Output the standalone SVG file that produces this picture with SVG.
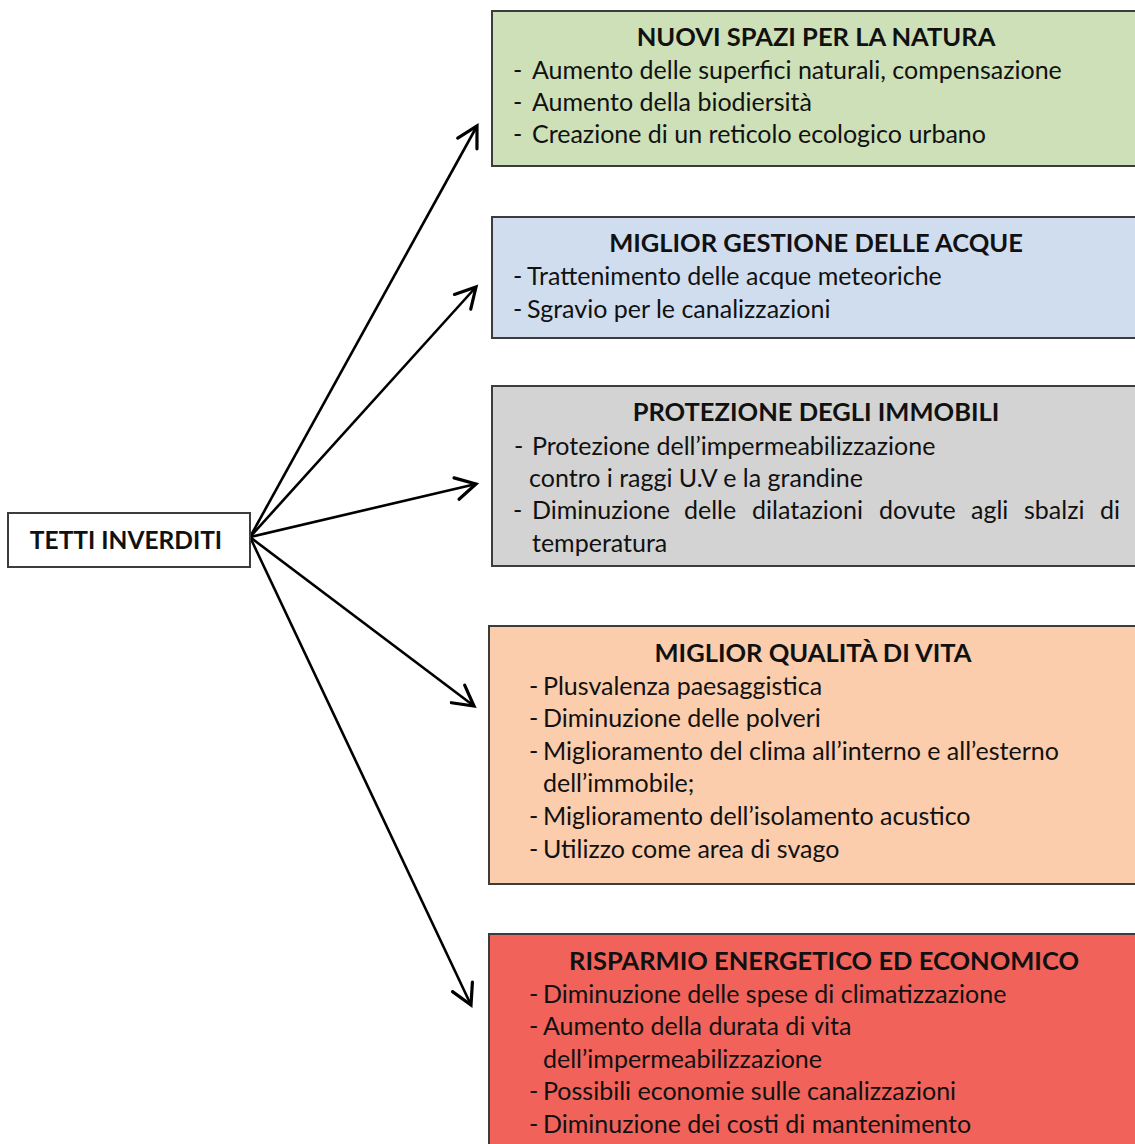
<svg xmlns="http://www.w3.org/2000/svg" width="1135" height="1144" viewBox="0 0 1135 1144">
<style>
.box{stroke:#3c3c3c;stroke-width:2}
text{font-family:Lato,"Open Sans","Liberation Sans",sans-serif;font-size:25px;fill:#111}
.t{font-weight:bold;text-anchor:middle;font-size:25.5px}
.conn line{stroke:#000;stroke-width:2.6}
</style>
<defs>
<marker id="ah" markerUnits="userSpaceOnUse" markerWidth="30" markerHeight="30" refX="24" refY="14" orient="auto" viewBox="0 0 30 28">
<path d="M4,3 L24,14 L4,25" fill="none" stroke="#000" stroke-width="3.2" stroke-linecap="round" stroke-linejoin="miter"/>
</marker>
</defs>
<rect width="1135" height="1144" fill="#fff"/>
<g class="conn">
<line x1="250" y1="537" x2="477" y2="126" marker-end="url(#ah)"/>
<line x1="250" y1="537" x2="476" y2="287" marker-end="url(#ah)"/>
<line x1="250" y1="537" x2="476" y2="484" marker-end="url(#ah)"/>
<line x1="250" y1="537" x2="474" y2="706" marker-end="url(#ah)"/>
<line x1="250" y1="537" x2="471" y2="1005" marker-end="url(#ah)"/>
</g>
<g id="tetti">
<rect class="box" x="8" y="513" width="242" height="54" fill="#fff"/>
<text class="t" x="126" y="549" style="font-size:24.5px">TETTI INVERDITI</text>
</g>
<g id="natura">
<rect class="box" x="492" y="11" width="660" height="155" fill="#CDE0B7"/>
<text class="t" x="816" y="46">NUOVI SPAZI PER LA NATURA</text>
<text x="513" y="79">-<tspan x="532">Aumento delle superfici naturali, compensazione</tspan></text>
<text x="513" y="111">-<tspan x="532">Aumento della biodiersità</tspan></text>
<text x="513" y="143">-<tspan x="532">Creazione di un reticolo ecologico urbano</tspan></text>
</g>
<g id="acque">
<rect class="box" x="492" y="217" width="660" height="121" fill="#D0DDEE"/>
<text class="t" x="816" y="252">MIGLIOR GESTIONE DELLE ACQUE</text>
<text x="513" y="285">-<tspan x="527">Trattenimento delle acque meteoriche</tspan></text>
<text x="513" y="318">-<tspan x="527">Sgravio per le canalizzazioni</tspan></text>
</g>
<g id="immobili">
<rect class="box" x="492" y="386" width="660" height="180" fill="#D3D3D3"/>
<text class="t" x="816" y="421">PROTEZIONE DEGLI IMMOBILI</text>
<text x="514" y="455">-<tspan x="532">Protezione dell’impermeabilizzazione</tspan></text>
<text x="529" y="487">contro i raggi U.V e la grandine</text>
<text x="513" y="519">-<tspan x="532">Diminuzione</tspan><tspan x="684">delle</tspan><tspan x="752">dilatazioni</tspan><tspan x="879">dovute</tspan><tspan x="971">agli</tspan><tspan x="1024">sbalzi</tspan><tspan x="1100">di</tspan></text>
<text x="532" y="552">temperatura</text>
</g>
<g id="vita">
<rect class="box" x="489" y="626" width="660" height="258" fill="#FBCDAC"/>
<text class="t" x="813" y="662">MIGLIOR QUALITÀ DI VITA</text>
<text x="529" y="695">-<tspan x="543">Plusvalenza paesaggistica</tspan></text>
<text x="529" y="727">-<tspan x="543">Diminuzione delle polveri</tspan></text>
<text x="529" y="760">-<tspan x="543">Miglioramento del clima all’interno e all’esterno</tspan></text>
<text x="543" y="792">dell’immobile;</text>
<text x="529" y="825">-<tspan x="543">Miglioramento dell’isolamento acustico</tspan></text>
<text x="529" y="858">-<tspan x="543">Utilizzo come area di svago</tspan></text>
</g>
<g id="risparmio">
<rect class="box" x="489" y="934" width="660" height="230" fill="#F0625A"/>
<text class="t" x="824" y="970">RISPARMIO ENERGETICO ED ECONOMICO</text>
<text x="529" y="1003">-<tspan x="543">Diminuzione delle spese di climatizzazione</tspan></text>
<text x="529" y="1035">-<tspan x="543">Aumento della durata di vita</tspan></text>
<text x="543" y="1068">dell’impermeabilizzazione</text>
<text x="529" y="1100">-<tspan x="543">Possibili economie sulle canalizzazioni</tspan></text>
<text x="529" y="1133">-<tspan x="543">Diminuzione dei costi di mantenimento</tspan></text>
</g>
</svg>
